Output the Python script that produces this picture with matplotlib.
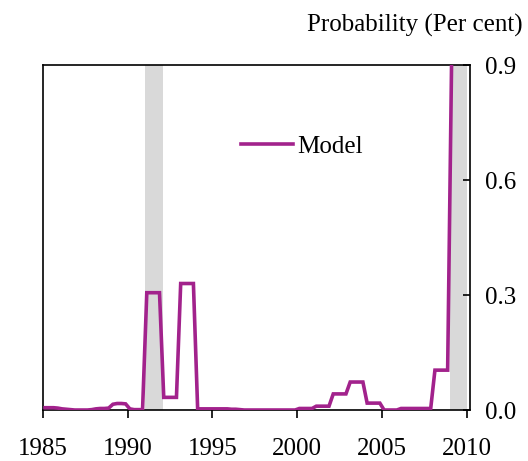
import numpy as np
import matplotlib
matplotlib.use("Agg")
import matplotlib.pyplot as plt

# Quarterly observations (mid-quarter)
start_year = 1985.125
model_prob = [
    0.006, 0.006, 0.006, 0.005,   # 1985
    0.003, 0.002, 0.001, 0.000,   # 1986
    0.000, 0.000, 0.000, 0.001,   # 1987
    0.003, 0.004, 0.004, 0.005,   # 1988
    0.015, 0.017, 0.017, 0.016,   # 1989
    0.003, 0.001, 0.001, 0.001,   # 1990
    0.306, 0.306, 0.306, 0.306,   # 1991
    0.033, 0.033, 0.033, 0.033,   # 1992
    0.330, 0.330, 0.330, 0.330,   # 1993
    0.003, 0.003, 0.003, 0.003,   # 1994
    0.003, 0.003, 0.003, 0.003,   # 1995
    0.002, 0.002, 0.001, 0.000,   # 1996
    0.000, 0.000, 0.000, 0.000,   # 1997
    0.000, 0.000, 0.000, 0.000,   # 1998
    0.000, 0.000, 0.000, 0.000,   # 1999
    0.004, 0.004, 0.004, 0.004,   # 2000
    0.010, 0.010, 0.010, 0.010,   # 2001
    0.042, 0.042, 0.042, 0.042,   # 2002
    0.073, 0.073, 0.073, 0.073,   # 2003
    0.018, 0.018, 0.018, 0.018,   # 2004
    0.000, 0.000, 0.000, 0.000,   # 2005
    0.004, 0.004, 0.004, 0.004,   # 2006
    0.004, 0.004, 0.004, 0.004,   # 2007
    0.104, 0.104, 0.104, 0.104,   # 2008
    0.970,                        # 2009
]
dates = start_year + 0.25 * np.arange(len(model_prob))

recessions = [(1991.0, 1992.1), (2009.0, 2010.0)]
x_ticks = [1985, 1990, 1995, 2000, 2005, 2010]
y_ticks = [0.0, 0.3, 0.6, 0.9]
y_tick_labels = ["0.0", "0.3", "0.6", "0.9"]

plt.rcParams['font.family'] = ['Liberation Serif', 'DejaVu Serif']
FS = 18

fig = plt.figure(figsize=(5.28, 4.61), dpi=100)
ax = fig.add_axes([0.0814, 0.1106, 0.8096, 0.7484])

for a, b in recessions:
    ax.axvspan(a, b, color='#D9D9D9', lw=0, zorder=0)

ax.plot(dates, model_prob, color='#A2228C', lw=2.6, label='Model', zorder=3,
        solid_joinstyle='miter')

ax.set_xlim(1985, 2010.22)
ax.set_ylim(0, 0.9)
ax.set_xticks(x_ticks)
ax.set_xticklabels([str(t) for t in x_ticks], fontsize=FS)
ax.yaxis.tick_right()
ax.set_yticks(y_ticks)
ax.set_yticklabels(y_tick_labels, fontsize=FS)
ax.tick_params(axis='x', direction='out', length=6, width=1.2, pad=14.5)
ax.tick_params(axis='y', direction='in', length=5, width=1.2, pad=10.5)
for s in ax.spines.values():
    s.set_linewidth(1.2)

ax.text(1.123, 1.116, 'Probability (Per cent)', transform=ax.transAxes,
        ha='right', va='center', fontsize=FS)

leg = ax.legend(loc='upper left', bbox_to_anchor=(0.464, 0.795), frameon=False,
                fontsize=FS, handlelength=2.08, handletextpad=0.15,
                borderaxespad=0, borderpad=0)

fig.savefig('out.png', dpi=100)
